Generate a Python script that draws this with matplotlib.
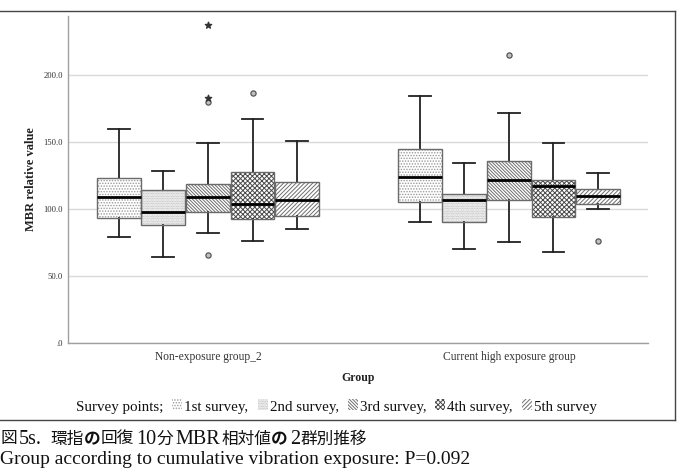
import matplotlib
matplotlib.use("Agg")
import matplotlib.pyplot as plt
from matplotlib.patches import Rectangle, PathPatch
from matplotlib.lines import Line2D

# ---------------- data ----------------
groups = ["Non-exposure group_2", "Current high exposure group"]
surveys = ["1st survey", "2nd survey", "3rd survey", "4th survey", "5th survey"]
hatches = ["......", "..........", "\\" * 10, "xxxxxxx", "/" * 8]
hatch_colors = ["#9a9a9a", "#b4b4b4", "#6e6e6e", "#4a4a4a", "#6e6e6e"]

# per group: 5 surveys
whislo = [[79, 64, 82, 76, 85], [90, 70, 75, 68, 100]]
q1     = [[93, 88, 97.5, 92.5, 95], [105, 90, 106.5, 94, 103.5]]
med    = [[109, 98, 109, 104, 107], [124, 107, 121.5, 117, 110]]
q3     = [[123, 114, 118.5, 127.5, 120], [144.5, 111, 135.5, 121.5, 115]]
whishi = [[160, 128.5, 149.5, 167.5, 151], [184.5, 134, 171.5, 149, 127]]
# outliers (circles) and extremes (stars): (group, survey, value)
out_group = [0, 0, 0, 1, 1]
out_survey = [2, 2, 3, 2, 4]
out_value = [65.7, 180, 186.5, 215, 76]
ext_group = [0, 0]
ext_survey = [2, 2]
ext_value = [183, 237]

yticks = [0, 50, 100, 150, 200]
ytick_labels = [".0", "50.0", "100.0", "150.0", "200.0"]

# caption line 1 pieces: text, font kind, weight
cap1_text = ["図", "5s.", "環指", "の", "回復", "10", "分", "MBR", "相対値", "の", "2", "群別推移"]
cap1_font = ["cjk", "serif", "cjk", "cjk", "cjk", "serif", "cjk", "serif", "cjk", "cjk", "serif", "cjk"]
cap1_weight = ["normal", "normal", "normal", "bold", "normal", "normal", "normal",
               "normal", "normal", "bold", "normal", "normal"]
caption2 = "Group according to cumulative vibration exposure: P=0.092"

# ---------------- figure ----------------
W, H = 680, 474
fig = plt.figure(figsize=(W / 100, H / 100), dpi=100)
plt.rcParams["hatch.linewidth"] = 0.7
serif = ["Liberation Serif", "DejaVu Serif"]
cjk = ["Noto Sans CJK JP", "DejaVu Sans"]

ax = fig.add_axes([68 / W, 1 - 343 / H, (648 - 68) / W, (343 - 16) / H])
step = 0.148
bw = 0.146

def pos(g, k):
    return g + (k - 2) * step

for k in range(5):
    stats = []
    positions = []
    for g in range(2):
        stats.append(dict(med=med[g][k], q1=q1[g][k], q3=q3[g][k],
                          whislo=whislo[g][k], whishi=whishi[g][k], fliers=[]))
        positions.append(pos(g, k))
    bp = ax.bxp(stats, positions=positions, widths=bw, patch_artist=True,
                showfliers=False,
                boxprops=dict(facecolor="white", edgecolor=hatch_colors[k], linewidth=0),
                medianprops=dict(color="black", linewidth=2.0, zorder=4),
                whiskerprops=dict(color="#222222", linewidth=1.3),
                capprops=dict(color="#222222", linewidth=1.3),
                capwidths=bw * 0.5)
    for b in bp["boxes"]:
        b.set_hatch(hatches[k])
        outline = PathPatch(b.get_path(), transform=b.get_transform(),
                            facecolor="none", edgecolor="#6a6a6a", linewidth=1.0,
                            zorder=3)
        ax.add_patch(outline)

ax.scatter([pos(g, k) for g, k in zip(out_group, out_survey)], out_value,
           s=14, marker="o", facecolor="#c0c0c0", edgecolor="#555555",
           linewidth=0.9, zorder=5)
ax.scatter([pos(g, k) for g, k in zip(ext_group, ext_survey)], ext_value,
           s=22, marker="*", color="#333333", zorder=6)

ax.set_xlim(-0.465, 1.462)
ax.set_ylim(0, 244)
ax.set_yticks(yticks)
ax.set_yticklabels(ytick_labels, fontfamily=serif, fontsize=6.2, color="#333333")
ax.set_xticks([0, 1])
ax.set_xticklabels(groups, fontfamily=serif, fontsize=8.3, color="#333333")
ax.tick_params(length=0, pad=6)
ax.tick_params(axis="y", pad=3.6)
ax.yaxis.grid(True, color="#d9d9d9", linewidth=1.0)
ax.set_axisbelow(True)
for s in ["top", "right"]:
    ax.spines[s].set_visible(False)
for s in ["left", "bottom"]:
    ax.spines[s].set_color("#a0a0a0")
    ax.spines[s].set_linewidth(1.0)

ax.set_ylabel("MBR relative value", fontfamily=serif, fontsize=9, fontweight="bold",
              color="#222222")
ax.yaxis.set_label_coords((37 - 68) / 580, 0.5)
fig.text(358 / W, 1 - 378 / H, "Group", fontfamily=serif, fontsize=8.5,
         fontweight="bold", ha="center", va="center", color="#222222")

# ---------------- legend row ----------------
renderer = fig.canvas.get_renderer()
x = 76.0
ly = 1 - 408 / H
t = fig.text(x / W, ly, "Survey points;", fontfamily=serif, fontsize=10.8,
             va="center", ha="left", color="#111111")
x += t.get_window_extent(renderer).width + 9
for k, name in enumerate(surveys):
    r = Rectangle((x / W, 1 - 410 / H), 10 / W, 11 / H, transform=fig.transFigure,
                  facecolor="white", edgecolor=hatch_colors[k], linewidth=0,
                  hatch=hatches[k])
    fig.patches.append(r)
    x += 12
    label = name + ("," if k < 4 else "")
    t = fig.text(x / W, ly, label, fontfamily=serif, fontsize=10.8,
                 va="center", ha="left", color="#111111")
    x += t.get_window_extent(renderer).width + 9

# ---------------- frame ----------------
fc = "#444444"
fig.add_artist(Line2D([0, 675 / W], [1 - 11 / H, 1 - 11 / H], transform=fig.transFigure,
                      color=fc, linewidth=1.0))
fig.add_artist(Line2D([675 / W, 675 / W], [1 - 11 / H, 1 - 420 / H], transform=fig.transFigure,
                      color=fc, linewidth=1.0))
fig.add_artist(Line2D([0, 675 / W], [1 - 420 / H, 1 - 420 / H], transform=fig.transFigure,
                      color=fc, linewidth=1.0))

# ---------------- caption ----------------
cy = 1 - 437 / H
x = 0.0
for i, (txt, fam, wt) in enumerate(zip(cap1_text, cap1_font, cap1_weight)):
    if fam == "cjk":
        t = fig.text(x / W, cy, txt, fontfamily=cjk, fontsize=12.0, fontweight=wt,
                     va="center_baseline", ha="left", color="#111111")
        x += t.get_window_extent(renderer).width
    else:
        t = fig.text((x + 2) / W, cy, txt, fontfamily=serif, fontsize=14.5, fontweight=wt,
                     va="center_baseline", ha="left", color="#111111")
        x += t.get_window_extent(renderer).width + (11 if txt == "5s." else 3)
fig.text(0.0, 1 - 460 / H, caption2,
         fontfamily=serif, fontsize=14.0, va="center", ha="left", color="#111111")

fig.savefig("out.png", dpi=100)
